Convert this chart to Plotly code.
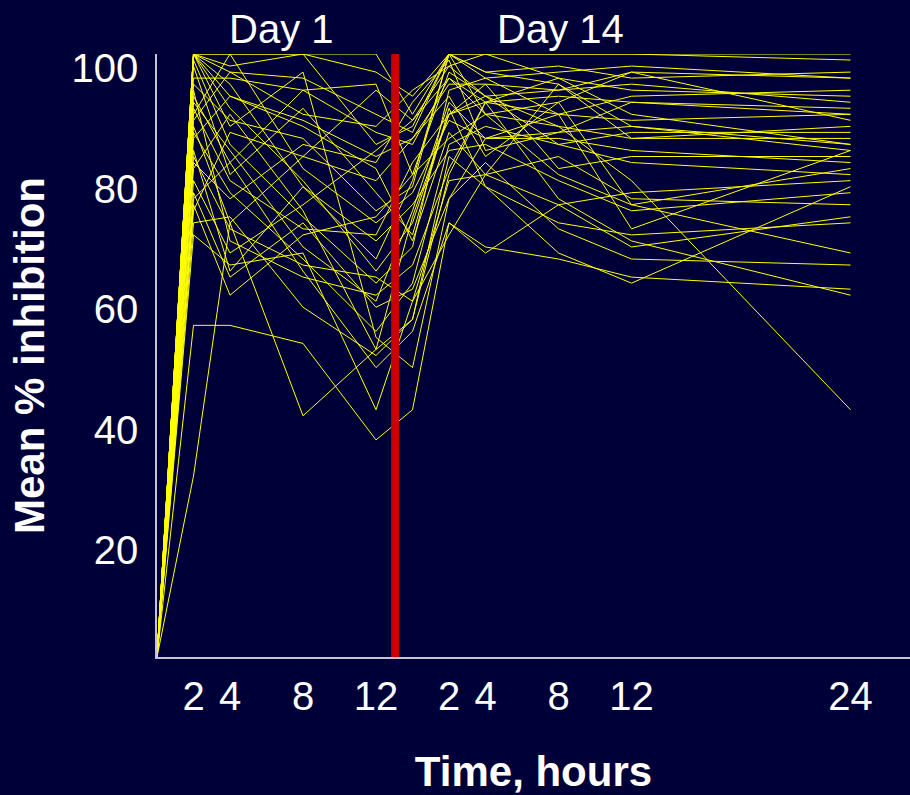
import plotly.graph_objects as go

# Sampling times (hours after dose) on each study day
day1_hours = [0, 2, 4, 8, 12]
day14_hours = [0, 2, 4, 8, 12, 24]

# Tick labels shown under each day's block
day1_tick_hours = [2, 4, 8, 12]
day14_tick_hours = [2, 4, 8, 12, 24]

# Mean % inhibition per subject, Day 1 (one row per subject)
day1_inhibition = [
    [0, 100, 100, 100, 100],
    [0, 100, 100, 100, 97],
    [0, 100, 98, 100, 85],
    [0, 100, 97, 90, 88],
    [0, 100, 93, 89, 83],
    [0, 100, 91, 79, 64],
    [0, 99, 85, 73, 62],
    [0, 96, 96, 94, 95],
    [0, 95, 89, 86, 74],
    [0, 93, 82, 94, 87],
    [0, 92, 84, 68, 59],
    [0, 91, 79, 71, 70],
    [0, 90, 100, 81, 72],
    [0, 88, 72, 83, 79],
    [0, 87, 77, 66, 54],
    [0, 86, 93, 88, 81],
    [0, 84, 64, 78, 69],
    [0, 83, 71, 65, 63],
    [0, 81, 90, 74, 51],
    [0, 79, 67, 75, 84],
    [0, 77, 63, 72, 58],
    [0, 76, 82, 64, 48],
    [0, 75, 60, 70, 73],
    [0, 74, 87, 83, 94],
    [0, 72, 73, 58, 50],
    [0, 70, 65, 67, 41],
    [0, 55, 55, 52, 36],
    [0, 30, 72, 40, 51],
    [0, 100, 95, 78, 66],
    [0, 100, 88, 97, 53],
    [0, 98, 80, 91, 77],
    [0, 94, 69, 63, 60],
    [0, 89, 97, 96, 90],
    [0, 82, 76, 85, 82],
]

# Mean % inhibition per subject, Day 14 (same subject order)
day14_inhibition = [
    [90, 100, 100, 100, 100, 100],
    [93, 100, 100, 100, 100, 99],
    [88, 100, 96, 97, 98, 96],
    [94, 98, 100, 96, 94, 93],
    [86, 95, 95, 94, 95, 92],
    [72, 90, 92, 93, 92, 91],
    [68, 94, 96, 90, 89, 90],
    [80, 97, 93, 85, 87, 87],
    [78, 100, 90, 88, 86, 86],
    [85, 96, 92, 96, 90, 85],
    [74, 92, 86, 87, 88, 84],
    [82, 90, 95, 81, 83, 83],
    [77, 89, 86, 86, 84, 82],
    [86, 93, 83, 92, 75, 81],
    [62, 85, 88, 85, 82, 80],
    [69, 87, 80, 75, 77, 79],
    [75, 84, 85, 79, 74, 77],
    [59, 79, 80, 83, 76, 75],
    [56, 83, 78, 72, 70, 72],
    [89, 96, 90, 80, 75, 67],
    [61, 76, 82, 71, 66, 65],
    [54, 72, 68, 66, 63, 61],
    [80, 86, 90, 92, 97, 96],
    [89, 98, 93, 94, 97, 89],
    [56, 80, 92, 76, 69, 60],
    [59, 70, 80, 95, 86, 88],
    [41, 72, 67, 75, 68, 73],
    [73, 90, 93, 88, 79, 41],
    [79, 100, 97, 95, 88, 85],
    [48, 76, 86, 90, 93, 94],
    [70, 91, 78, 67, 62, 78],
    [65, 81, 92, 90, 71, 84],
    [87, 100, 97, 98, 96, 97],
    [92, 99, 84, 87, 92, 90],
]

# Day 14 hour 0 sits this many axis units after Day 1 hour 0
DAY14_OFFSET = 14
DIVIDER_X = 13.05

BG = "#000038"
AXIS = "#C4C4D4"
FONT = "Liberation Sans, Arial, Helvetica, sans-serif"

x_all = day1_hours + [h + DAY14_OFFSET for h in day14_hours]

fig = go.Figure()
for d1, d14 in zip(day1_inhibition, day14_inhibition):
    fig.add_trace(go.Scatter(
        x=x_all, y=d1 + d14, mode="lines",
        line=dict(color="#FFFF00", width=1),
        hoverinfo="skip", showlegend=False, cliponaxis=False,
    ))

# Red divider between the two study days
fig.add_shape(type="line", xref="x", yref="y",
              x0=DIVIDER_X, x1=DIVIDER_X, y0=0, y1=100,
              line=dict(color="#CC0000", width=8), layer="above")

tickvals = day1_tick_hours + [h + DAY14_OFFSET for h in day14_tick_hours]
ticktext = [str(h) for h in day1_tick_hours] + [str(h) for h in day14_tick_hours]

fig.update_layout(
    width=910, height=795,
    margin=dict(l=157, r=0, t=54, b=138),
    paper_bgcolor=BG, plot_bgcolor=BG,
    font=dict(family=FONT, color="white", size=40),
    xaxis=dict(
        range=[0, 41.26], showgrid=False, zeroline=False,
        showline=True, linecolor=AXIS, linewidth=1.5,
        tickmode="array", tickvals=tickvals, ticktext=ticktext,
        ticks="", ticklabelstandoff=3,
        tickfont=dict(size=40, color="white"),
        title=dict(text="<b>Time, hours</b>", font=dict(size=42, color="white"),
                   standoff=43),
    ),
    yaxis=dict(
        range=[0, 100], showgrid=False, zeroline=False,
        showline=True, linecolor=AXIS, linewidth=1.5,
        tickmode="array", tickvals=[20, 40, 60, 80, 100],
        ticks="", ticklabelstandoff=9, ticklabelshift=14,
        tickfont=dict(size=40, color="white"),
        title=dict(text="<b>Mean % inhibition</b>", font=dict(size=42, color="white"),
                   standoff=14),
    ),
    annotations=[
        dict(text="Day 1", x=6.8, xref="x", y=1, yref="paper",
             yanchor="bottom", yshift=1, showarrow=False,
             font=dict(size=40, color="white")),
        dict(text="Day 14", x=22.1, xref="x", y=1, yref="paper",
             yanchor="bottom", yshift=1, showarrow=False,
             font=dict(size=40, color="white")),
    ],
)

fig.write_html("out.html")
